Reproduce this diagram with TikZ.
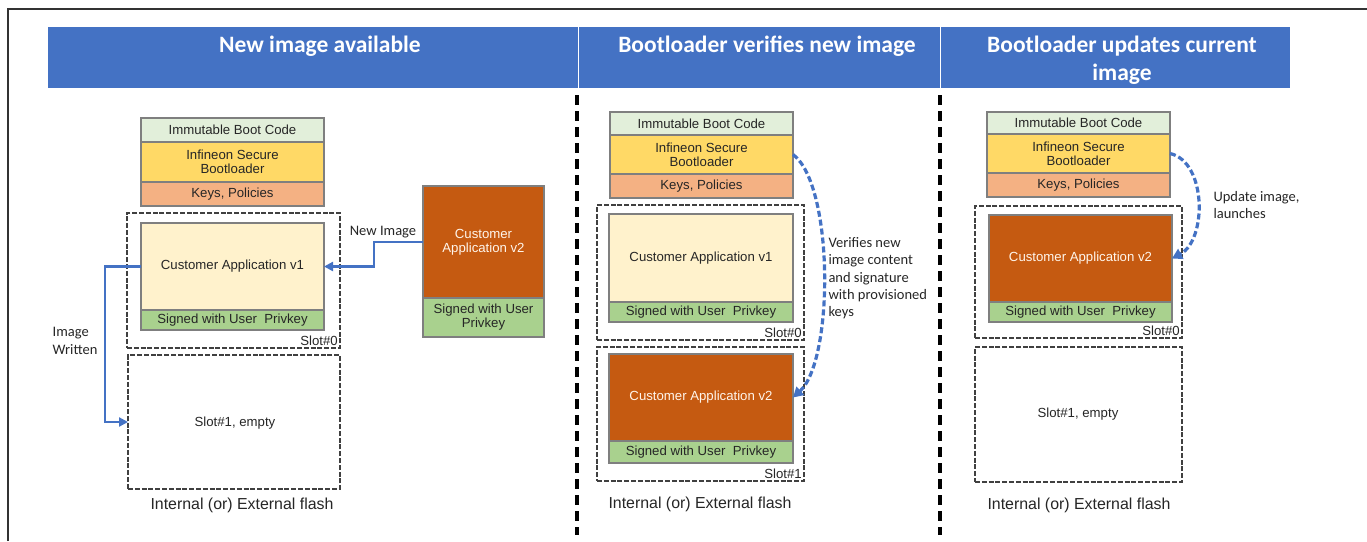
\documentclass[tikz,border=0pt]{standalone}
\usepackage{fontspec}
\setmainfont{Liberation Sans}
\newfontfamily\calib{Carlito}
\usetikzlibrary{arrows.meta}
\definecolor{hdrblue}{HTML}{4472C4}
\definecolor{immut}{HTML}{E2EFDA}
\definecolor{isb}{HTML}{FFD966}
\definecolor{keys}{HTML}{F4B183}
\definecolor{appone}{HTML}{FFF2CC}
\definecolor{apptwo}{HTML}{C55A11}
\definecolor{signed}{HTML}{A9D18E}
\definecolor{bordergray}{HTML}{7F7F7F}
\definecolor{slotgray}{HTML}{404040}
\definecolor{arrowblue}{HTML}{4472C4}
\tikzset{
  layer/.style={draw=bordergray, line width=1.5pt, rectangle, inner sep=0pt, outer sep=0pt,
     anchor=north west, align=center, font=\fontsize{13.2}{14}\selectfont, text=black!85},
  slotbox/.style={draw=slotgray, line width=2.8pt, dash pattern=on 5pt off 1.8pt, rectangle,
     inner sep=0pt, outer sep=0pt, anchor=north west},
  slotlabel/.style={font=\fontsize{13.2}{14}\selectfont, text=black!85, anchor=south east, inner sep=2pt},
  flashlabel/.style={font=\fontsize{15.9}{17}\selectfont, text=black!85},
  hdr/.style={fill=hdrblue, draw=white, line width=1pt, rectangle, inner sep=0pt, outer sep=0pt, anchor=north west},
  hdrtext/.style={text=white, font=\calib\bfseries\fontsize{23.5}{28}\selectfont, align=center, anchor=north},
  note/.style={font=\calib\fontsize{14.5}{17.3}\selectfont, text=black!85, align=left},
  flowarrow/.style={draw=arrowblue, line width=2.6pt, -{Triangle[length=9pt,width=9pt]}},
  curvearrow/.style={draw=arrowblue, line width=3.2pt, dash pattern=on 6pt off 3pt, -{Triangle[length=10pt,width=11pt]}},
  panelsep/.style={draw=black, line width=3.6pt, dash pattern=on 10pt off 6pt},
}
\begin{document}
\begin{tikzpicture}[x=1pt,y=-1pt]
\useasboundingbox (0,0) rectangle (1367,541);
\fill[white] (0,0) rectangle (1367,541);
% outer frame (top and left)
\draw[line width=2pt, black!80] (8,541) -- (8,9) -- (1367,9);

% headers
\node[hdr, minimum width=531, minimum height=62] (h1) at (47,26) {};
\node[hdr, minimum width=362, minimum height=62] (h2) at (578,26) {};
\node[hdr, minimum width=350, minimum height=62] (h3) at (940,26) {};
\node[hdrtext] (t1) at (320,32) {New image available};
\node[hdrtext] (t2) at (767,32) {Bootloader verifies new image};
\node[hdrtext] (t3) at (1122,32) {Bootloader updates current\\image};

% panel separators
\coordinate (s1a) at (577,95); \coordinate (s1b) at (577,535);
\coordinate (s2a) at (940,95); \coordinate (s2b) at (940,535);
\draw[panelsep] (s1a) -- (s1b);
\draw[panelsep] (s2a) -- (s2b);

% ---------- Panel 1 ----------
\node[layer, fill=immut, minimum width=183, minimum height=24] (p1ibc) at (141,118) {Immutable Boot Code};
\node[layer, fill=isb, minimum width=183, minimum height=40] (p1isb) at (141,142) {Infineon Secure\\Bootloader};
\node[layer, fill=keys, minimum width=183, minimum height=24] (p1key) at (141,182) {Keys, Policies};
\node[slotbox, minimum width=213, minimum height=135] (p1s0) at (127,213) {};
\node[layer, fill=appone, minimum width=183, minimum height=87] (p1app) at (141,223) {Customer Application v1};
\node[layer, fill=signed, minimum width=183, minimum height=20] (p1sig) at (141,310) {Signed with User~ Privkey};
\node[slotlabel] (p1l0) at (p1s0.south east) {Slot\#0};
\node[slotbox, minimum width=212, minimum height=134] (p1s1) at (128,355) {};
\node[font=\fontsize{13.2}{14}\selectfont, text=black!85] (p1e) at (235,423) {Slot\#1, empty};
\node[flashlabel] (p1f) at (242,505) {Internal (or) External flash};

\node[layer, fill=apptwo, text=white!92!orange, minimum width=121, minimum height=112] (p1v2) at (423,186) {Customer\\Application v2};
\node[layer, fill=signed, minimum width=121, minimum height=39] (p1v2s) at (423,298) {Signed with User\\Privkey};

\draw[flowarrow] (p1v2.west) -- ++(-49,0) |- (p1app.east);
\node[note, anchor=south] (n1) at (383,242) {New Image};
\draw[flowarrow] (p1app.west) -- ++(-36,0) |- (p1s1.west);
\node[note] (n2) at (75,341) {Image\\Written};

% ---------- Panel 2 ----------
\node[layer, fill=immut, minimum width=183, minimum height=23] (p2ibc) at (610,112) {Immutable Boot Code};
\node[layer, fill=isb, minimum width=183, minimum height=39] (p2isb) at (610,135) {Infineon Secure\\Bootloader};
\node[layer, fill=keys, minimum width=183, minimum height=24] (p2key) at (610,174) {Keys, Policies};
\node[slotbox, minimum width=207, minimum height=135] (p2s0) at (597,205) {};
\node[layer, fill=appone, minimum width=184, minimum height=88] (p2app) at (609,214) {Customer Application v1};
\node[layer, fill=signed, minimum width=184, minimum height=20] (p2sig) at (609,302) {Signed with User~ Privkey};
\node[slotlabel] (p2l0) at (p2s0.south east) {Slot\#0};
\node[slotbox, minimum width=207, minimum height=134] (p2s1) at (597,347) {};
\node[layer, fill=apptwo, text=white!92!orange, minimum width=184, minimum height=87] (p2v2) at (609,354) {Customer Application v2};
\node[layer, fill=signed, minimum width=184, minimum height=22] (p2v2s) at (609,441) {Signed with User~ Privkey};
\node[slotlabel] (p2l1) at (p2s1.south east) {Slot\#1};
\node[flashlabel] (p2f) at (700,504) {Internal (or) External flash};

\draw[curvearrow] (p2isb.east) .. controls (834,185) and (834,360) .. (p2v2.east);
\node[note, anchor=north west] (n3) at (825,234) {Verifies new\\image content\\and signature\\with provisioned\\keys};

% ---------- Panel 3 ----------
\node[layer, fill=immut, minimum width=183, minimum height=22] (p3ibc) at (987,112) {Immutable Boot Code};
\node[layer, fill=isb, minimum width=183, minimum height=39] (p3isb) at (987,134) {Infineon Secure\\Bootloader};
\node[layer, fill=keys, minimum width=183, minimum height=24] (p3key) at (987,173) {Keys, Policies};
\node[slotbox, minimum width=207, minimum height=132] (p3s0) at (975,206) {};
\node[layer, fill=apptwo, text=white!92!orange, minimum width=183, minimum height=87] (p3v2) at (989,215) {Customer Application v2};
\node[layer, fill=signed, minimum width=183, minimum height=20] (p3v2s) at (989,302) {Signed with User~ Privkey};
\node[slotlabel] (p3l0) at (p3s0.south east) {Slot\#0};
\node[slotbox, minimum width=207, minimum height=135] (p3s1) at (975,347) {};
\node[font=\fontsize{13.2}{14}\selectfont, text=black!85] (p3e) at (1078,414) {Slot\#1, empty};
\node[flashlabel] (p3f) at (1079,505) {Internal (or) External flash};

\draw[curvearrow] (p3isb.east) .. controls (1207,162) and (1207,240) .. (p3v2.east);
\node[note, anchor=north west] (n4) at (1210,188) {Update image,\\launches};
\end{tikzpicture}
\end{document}
